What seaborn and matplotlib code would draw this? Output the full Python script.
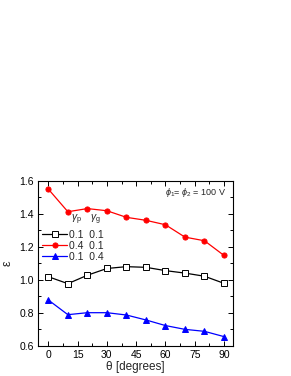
import matplotlib
matplotlib.use("Agg")
import matplotlib.pyplot as plt
import seaborn as sns
import pandas as pd
from matplotlib.ticker import MultipleLocator

theta = [0, 10, 20, 30, 40, 50, 60, 70, 80, 90]
eps_01_01 = [1.018, 0.976, 1.027, 1.068, 1.079, 1.075, 1.055, 1.040, 1.021, 0.978]
eps_04_01 = [1.549, 1.412, 1.431, 1.418, 1.378, 1.360, 1.333, 1.258, 1.236, 1.147]
eps_01_04 = [0.877, 0.788, 0.800, 0.800, 0.786, 0.756, 0.722, 0.699, 0.687, 0.655]
labels = ["0.1  0.1", "0.4  0.1", "0.1  0.4"]
colors = ["black", "red", "blue"]
markers = ["s", "o", "^"]
facecolors = ["white", "red", "blue"]

sns.set_theme(style="ticks")
plt.rcParams["font.family"] = ["Liberation Sans", "DejaVu Sans"]
plt.rcParams["mathtext.fontset"] = "custom"
plt.rcParams["mathtext.rm"] = "Liberation Sans"
plt.rcParams["mathtext.it"] = "Liberation Sans:italic"

fig = plt.figure(figsize=(2.91, 3.76), dpi=100)
ax = fig.add_axes([0.1306, 0.0806, 0.670, 0.4388])

series = [eps_01_01, eps_04_01, eps_01_04]
for vals, lab, c, m, fc in zip(series, labels, colors, markers, facecolors):
    df = pd.DataFrame({"theta": theta, "eps": vals})
    sns.lineplot(data=df, x="theta", y="eps", ax=ax, color=c, marker=m,
                 markersize=3.7, markerfacecolor=fc, markeredgecolor=c,
                 markeredgewidth=0.7, linewidth=0.9, label=lab)

ax.set_xlim(-5.3, 94.6)
ax.set_ylim(0.6, 1.6)
ax.xaxis.set_major_locator(MultipleLocator(15))
ax.xaxis.set_minor_locator(MultipleLocator(7.5))
ax.yaxis.set_major_locator(MultipleLocator(0.2))
ax.yaxis.set_minor_locator(MultipleLocator(0.1))
ax.tick_params(which="both", direction="in", top=True, right=True,
               labelsize=7.5, width=0.7, pad=3, colors="black")
ax.tick_params(which="major", length=3.5)
ax.tick_params(which="minor", length=2)
for s in ax.spines.values():
    s.set_linewidth(0.8)
    s.set_color("black")

ax.set_xlabel("θ [degrees]", fontsize=8.5, labelpad=1)
ax.set_ylabel("ε", fontsize=9, labelpad=4)

leg = ax.legend(loc="upper left", bbox_to_anchor=(0.0, 0.729), frameon=False,
                fontsize=7.5, handlelength=2.4, handletextpad=0.2,
                labelspacing=0.12, borderaxespad=0.2, borderpad=0.2)
ax.text(0.169, 0.718, r"$\gamma_{\rm p}$", transform=ax.transAxes, fontsize=7.5,
        ha="left", va="bottom")
ax.text(0.267, 0.718, r"$\gamma_{\rm g}$", transform=ax.transAxes, fontsize=7.5,
        ha="left", va="bottom")
ax.text(0.965, 0.93, r"$\phi_1$= $\phi_2$ = 100 V", transform=ax.transAxes,
        fontsize=6.5, ha="right", va="center")

fig.savefig("out.png", dpi=100)
